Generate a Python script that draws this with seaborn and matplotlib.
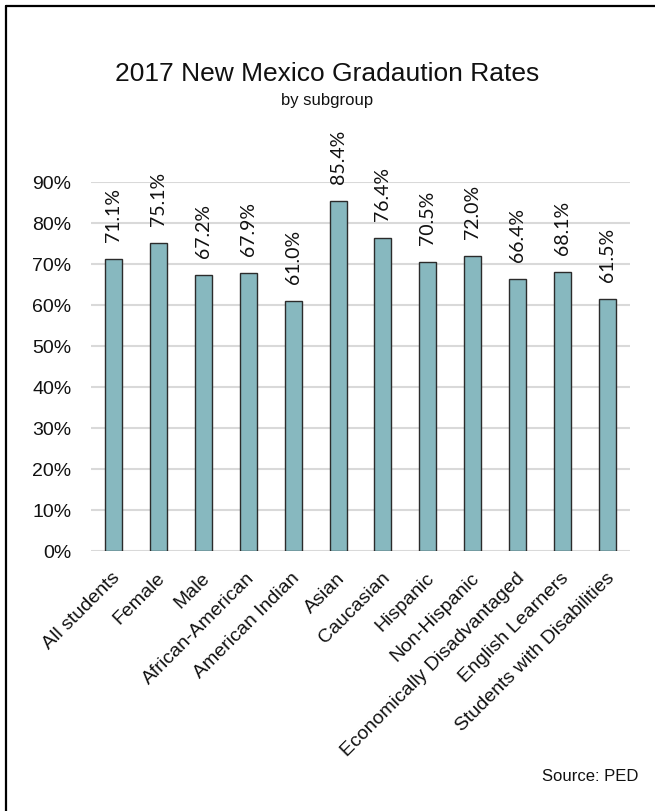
import matplotlib
matplotlib.use("Agg")
import matplotlib.pyplot as plt
from matplotlib.lines import Line2D
from matplotlib.ticker import PercentFormatter
from matplotlib.transforms import ScaledTranslation
import seaborn as sns
import pandas as pd

# Graduation rates by student subgroup, 2017
subgroups = [
    "All students", "Female", "Male", "African-American", "American Indian",
    "Asian", "Caucasian", "Hispanic", "Non-Hispanic",
    "Economically Disadvantaged", "English Learners", "Students with Disabilities",
]
rates = [0.711, 0.751, 0.672, 0.679, 0.610, 0.854, 0.764, 0.705, 0.720, 0.664, 0.681, 0.615]
y_ticks = [0.0, 0.1, 0.2, 0.3, 0.4, 0.5, 0.6, 0.7, 0.8, 0.9]

title_text = "2017 New Mexico Gradaution Rates"
subtitle_text = "by subgroup"
source_text = "Source: PED"

df = pd.DataFrame({"subgroup": subgroups, "rate": rates})

sns.set_theme(style="white")
plt.rcParams["font.family"] = ["Liberation Sans", "DejaVu Sans"]

W, H = 655, 812
fig = plt.figure(figsize=(W / 100, H / 100), dpi=100)
ax = fig.add_axes([91 / W, 1 - 552 / H, (630 - 91) / W, (552 - 183) / H])

sns.barplot(data=df, x="subgroup", y="rate", ax=ax, color="#87B8BF",
            edgecolor="#2b2b2b", linewidth=1.0, width=0.38, saturation=1)

ax.set_ylim(0, 0.9)
ax.set_xlim(-0.5, len(subgroups) - 0.5)
ax.set_yticks(y_ticks)
ax.yaxis.set_major_formatter(PercentFormatter(1.0, decimals=0))
ax.grid(axis="y", color="#D9D9D9", linewidth=1.5)
ax.set_axisbelow(True)
for side in ["top", "right", "left", "bottom"]:
    ax.spines[side].set_visible(False)
ax.set_xlabel("")
ax.set_ylabel("")
ax.tick_params(axis="y", length=0, pad=14, labelsize=14, labelcolor="#111111")
ax.tick_params(axis="x", length=0, pad=17, labelsize=14, labelcolor="#111111")
shift = ScaledTranslation(4 / 100, 0, fig.dpi_scale_trans)
for lbl in ax.get_xticklabels():
    lbl.set_rotation(45)
    lbl.set_ha("right")
    lbl.set_va("center")
    lbl.set_rotation_mode("anchor")
    lbl.set_transform(lbl.get_transform() + shift)

ax.bar_label(ax.containers[0], labels=[f"{v * 100:.1f}%" for v in rates],
             padding=13, rotation=90, fontsize=14, family=["Lato", "DejaVu Sans"],
             color="#111111", clip_on=False)

fig.text(0.5, 1 - 74 / H, title_text, ha="center", va="center",
         fontsize=19, color="#111111")
fig.text(0.5, 1 - 101 / H, subtitle_text, ha="center", va="center",
         fontsize=12, color="#111111")
fig.text(638 / W, 1 - 777 / H, source_text, ha="right", va="center",
         fontsize=12, color="#111111")

# Frame around the figure (left and top edges visible)
fig.add_artist(Line2D([6 / W, 6 / W], [1 - 7 / H, 0], transform=fig.transFigure,
                      color="black", linewidth=1.6))
fig.add_artist(Line2D([6 / W, 1], [1 - 7 / H, 1 - 7 / H], transform=fig.transFigure,
                      color="black", linewidth=1.6))

fig.savefig("out.png", dpi=100, facecolor="white")
